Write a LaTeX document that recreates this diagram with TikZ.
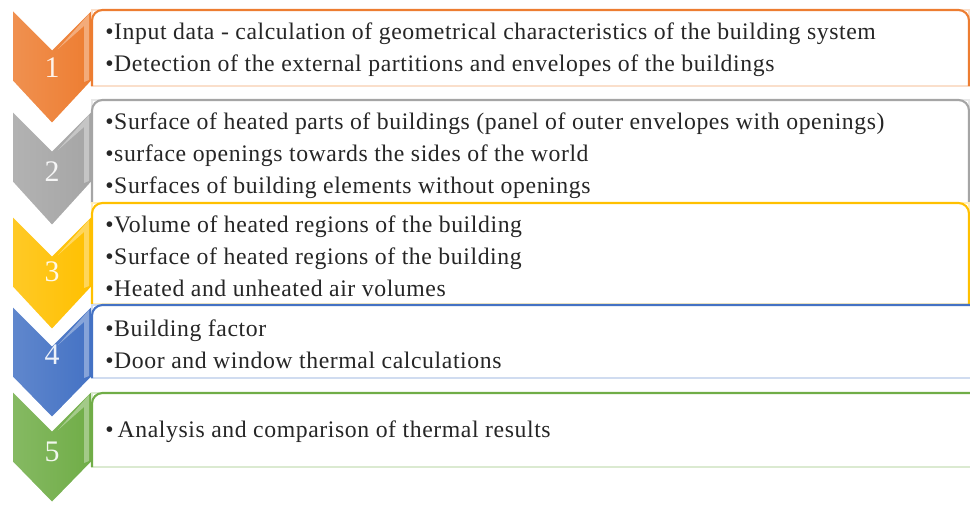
\documentclass[tikz,border=0pt]{standalone}
\usepackage{fontspec}
\setmainfont{Liberation Serif}
\newfontfamily\itemfont{Liberation Serif}[LetterSpace=2.5]
\usepackage{xcolor}
\usepackage{tikz}

\definecolor{offOrange}{HTML}{ED7D31}
\definecolor{offGray}{HTML}{A5A5A5}
\definecolor{offGold}{HTML}{FFC000}
\definecolor{offBlue}{HTML}{4472C4}
\definecolor{offGreen}{HTML}{70AD47}

\begin{document}
\begin{tikzpicture}[
  x=0.02cm, y=-0.02cm,
  chev/.style={draw=white, line width=1pt, left color=#1!85!white, right color=#1},
  gloss/.style={fill=white, fill opacity=0.35, draw=none},
  panel/.style={draw=#1, line width=1.2pt, rounded corners=6pt},
  panelbase/.style={draw=#1!25, line width=0.6pt, fill=white},
  num/.style={text=white, text opacity=0.9, inner sep=0pt, font=\fontsize{17}{17}\selectfont},
  item/.style={align=left, inner sep=0pt, anchor=west, text=black!85, font=\itemfont\fontsize{13.5}{18.14}\selectfont}
]
\useasboundingbox (0,0) rectangle (970,505);

% chevrons
\draw[chev=offOrange] (12,9) -- (52,49) -- (92,9) -- (92,81) -- (52,124) -- (12,81) -- cycle;
\draw[chev=offGray] (12,110) -- (52,150) -- (92,110) -- (92,182) -- (52,226) -- (12,182) -- cycle;
\draw[chev=offGold] (12,215) -- (52,255) -- (92,215) -- (92,287) -- (52,330) -- (12,287) -- cycle;
\draw[chev=offBlue] (12,305) -- (52,345) -- (92,305) -- (92,377) -- (52,418) -- (12,377) -- cycle;
\draw[chev=offGreen] (12,390) -- (52,430) -- (92,390) -- (92,462) -- (52,503) -- (12,462) -- cycle;

% gloss on the right side of each chevron
\fill[gloss] (58,49) -- (89,14) -- (89,80) -- (84,82) -- (84,26) -- cycle;
\fill[gloss] (58,150) -- (89,115) -- (89,181) -- (84,183) -- (84,127) -- cycle;
\fill[gloss] (58,255) -- (89,220) -- (89,286) -- (84,288) -- (84,232) -- cycle;
\fill[gloss] (58,345) -- (89,310) -- (89,376) -- (84,378) -- (84,322) -- cycle;
\fill[gloss] (58,430) -- (89,395) -- (89,461) -- (84,463) -- (84,407) -- cycle;

\node[num] (n1) at (52,68) {1};
\node[num] (n2) at (52,172) {2};
\node[num] (n3) at (52,272) {3};
\node[num] (n4) at (52,355) {4};
\node[num] (n5) at (52,452) {5};

% panels
\draw[panelbase=offOrange] (92,10) rectangle (969,86);
\draw[panel=offOrange] (92,86) -- (92,10) -- (969,10) -- (969,86);
\draw[panelbase=offGray] (92,100) rectangle (969,203);
\draw[panel=offGray] (92,203) -- (92,100) -- (969,100) -- (969,203);
\draw[panelbase=offGold] (92,203) rectangle (969,304);
\draw[panel=offGold] (92,304) -- (92,203) -- (969,203) -- (969,304);
\draw[panelbase=offBlue] (92,305) rectangle (990,378);
\draw[panel=offBlue] (92,378) -- (92,305) -- (990,305);
\draw[panelbase=offGreen] (92,393) rectangle (990,467);
\draw[panel=offGreen] (92,467) -- (92,393) -- (990,393);

% panel texts
\node[item] (t1) at (105,50) {\textbullet Input data - calculation of geometrical characteristics of the building system\\
  \textbullet Detection of the external partitions and envelopes of the buildings};
\node[item] (t2) at (105,156) {\textbullet Surface of heated parts of buildings (panel of outer envelopes with openings)\\
  \textbullet surface openings towards the sides of the world\\
  \textbullet Surfaces of building elements without openings};
\node[item] (t3) at (105,256) {\textbullet Volume of heated regions of the building\\
  \textbullet Surface of heated regions of the building\\
  \textbullet Heated and unheated air volumes};
\node[item] (t4) at (105,344) {\textbullet Building factor\\
  \textbullet Door and window thermal calculations};
\node[item] (t5) at (105,432) {\textbullet\,Analysis and comparison of thermal results};
\end{tikzpicture}
\end{document}
